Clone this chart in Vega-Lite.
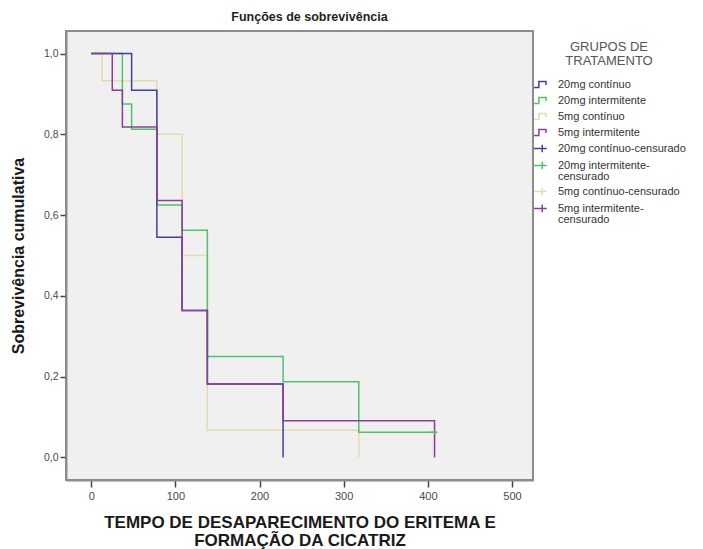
{
  "$schema": "https://vega.github.io/schema/vega-lite/v6.json",
  "width": 467,
  "height": 449,
  "autosize": {"type": "none"},
  "padding": {"left": 66, "top": 31, "right": 170, "bottom": 69},
  "background": "white",
  "title": {
    "text": "Funções de sobrevivência",
    "font": "Liberation Sans",
    "fontSize": 12.5,
    "fontWeight": "bold",
    "color": "#1e1e1e",
    "anchor": "middle",
    "frame": "group",
    "offset": 8,
    "dx": 10
  },
  "datasets": {
    "curvas": [
      {"grupo": "5mg contínuo", "tempo": 0, "sobrevivencia": 1},
      {"grupo": "5mg contínuo", "tempo": 13, "sobrevivencia": 0.933},
      {"grupo": "5mg contínuo", "tempo": 78, "sobrevivencia": 0.8},
      {"grupo": "5mg contínuo", "tempo": 108, "sobrevivencia": 0.5},
      {"grupo": "5mg contínuo", "tempo": 138, "sobrevivencia": 0.067},
      {"grupo": "5mg contínuo", "tempo": 318, "sobrevivencia": 0},
      {"grupo": "20mg intermitente", "tempo": 0, "sobrevivencia": 1},
      {"grupo": "20mg intermitente", "tempo": 37, "sobrevivencia": 0.875},
      {"grupo": "20mg intermitente", "tempo": 48, "sobrevivencia": 0.8125},
      {"grupo": "20mg intermitente", "tempo": 78, "sobrevivencia": 0.625},
      {"grupo": "20mg intermitente", "tempo": 108, "sobrevivencia": 0.5625},
      {"grupo": "20mg intermitente", "tempo": 138, "sobrevivencia": 0.25},
      {"grupo": "20mg intermitente", "tempo": 228, "sobrevivencia": 0.1875},
      {"grupo": "20mg intermitente", "tempo": 318, "sobrevivencia": 0.0625},
      {"grupo": "20mg intermitente", "tempo": 408, "sobrevivencia": 0.0625},
      {"grupo": "20mg contínuo", "tempo": 0, "sobrevivencia": 1},
      {"grupo": "20mg contínuo", "tempo": 48, "sobrevivencia": 0.909},
      {"grupo": "20mg contínuo", "tempo": 78, "sobrevivencia": 0.545},
      {"grupo": "20mg contínuo", "tempo": 108, "sobrevivencia": 0.364},
      {"grupo": "20mg contínuo", "tempo": 138, "sobrevivencia": 0.182},
      {"grupo": "20mg contínuo", "tempo": 228, "sobrevivencia": 0},
      {"grupo": "5mg intermitente", "tempo": 0, "sobrevivencia": 1},
      {"grupo": "5mg intermitente", "tempo": 25, "sobrevivencia": 0.909},
      {"grupo": "5mg intermitente", "tempo": 37, "sobrevivencia": 0.818},
      {"grupo": "5mg intermitente", "tempo": 78, "sobrevivencia": 0.636},
      {"grupo": "5mg intermitente", "tempo": 108, "sobrevivencia": 0.364},
      {"grupo": "5mg intermitente", "tempo": 138, "sobrevivencia": 0.182},
      {"grupo": "5mg intermitente", "tempo": 228, "sobrevivencia": 0.091},
      {"grupo": "5mg intermitente", "tempo": 408, "sobrevivencia": 0}
    ],
    "censurados": [
      {"grupo": "20mg intermitente-censurado", "tempo": 408, "sobrevivencia": 0.0625}
    ]
  },
  "resolve": {"legend": {"color": "independent", "shape": "independent"}},
  "layer": [
    {
      "data": {"name": "curvas"},
      "mark": {"type": "line", "interpolate": "step-after", "strokeWidth": 1.5},
      "encoding": {
        "x": {
          "field": "tempo",
          "type": "quantitative",
          "scale": {"domain": [-30, 525], "nice": false, "zero": false},
          "axis": {
            "values": [0, 100, 200, 300, 400, 500],
            "title": ["TEMPO DE DESAPARECIMENTO DO ERITEMA E", "FORMAÇÃO DA CICATRIZ"],
            "titleFont": "Liberation Sans",
            "titleFontSize": 17,
            "titleFontWeight": "bold",
            "titleColor": "#1a1a1a",
            "titleLineHeight": 18,
            "titlePadding": 13,
            "labelFont": "Liberation Sans",
            "labelFontSize": 11,
            "labelColor": "#4a4a4a",
            "labelPadding": 3,
            "tickColor": "#444444",
            "tickSize": 7,
            "tickWidth": 1.5,
            "domainColor": "#8c8c8c",
            "domainWidth": 2,
            "grid": false
          }
        },
        "y": {
          "field": "sobrevivencia",
          "type": "quantitative",
          "scale": {"domain": [-0.056, 1.056], "nice": false, "zero": false},
          "axis": {
            "values": [0, 0.2, 0.4, 0.6, 0.8, 1],
            "labelExpr": "replace(format(datum.value, '.1f'), '.', ',')",
            "title": "Sobrevivência cumulativa",
            "titleFont": "Liberation Sans",
            "titleFontSize": 16,
            "titleFontWeight": "bold",
            "titleColor": "#1a1a1a",
            "titlePadding": 17,
            "labelFont": "Liberation Sans",
            "labelFontSize": 10.5,
            "labelColor": "#4a4a4a",
            "labelPadding": 2,
            "tickColor": "#444444",
            "tickSize": 6,
            "tickWidth": 1.5,
            "domainColor": "#8c8c8c",
            "domainWidth": 2,
            "grid": false
          }
        },
        "color": {
          "field": "grupo",
          "type": "nominal",
          "sort": null,
          "scale": {
            "domain": ["20mg contínuo", "20mg intermitente", "5mg contínuo", "5mg intermitente", "20mg contínuo-censurado", "20mg intermitente-censurado", "5mg contínuo-censurado", "5mg intermitente-censurado"],
            "range": ["#40409e", "#4fc26c", "#e6d9b0", "#8a3e98", "#40409e", "#4fc26c", "#e6d9b0", "#8a3e98"]
          },
          "legend": null
        }
      }
    },
    {
      "data": {"name": "censurados"},
      "mark": {"type": "point", "filled": false, "size": 64, "strokeWidth": 1.5, "opacity": 1},
      "encoding": {
        "x": {"field": "tempo", "type": "quantitative"},
        "y": {"field": "sobrevivencia", "type": "quantitative"},
        "color": {
          "field": "grupo",
          "type": "nominal",
          "sort": null,
          "scale": {
            "domain": ["20mg contínuo", "20mg intermitente", "5mg contínuo", "5mg intermitente", "20mg contínuo-censurado", "20mg intermitente-censurado", "5mg contínuo-censurado", "5mg intermitente-censurado"],
            "range": ["#40409e", "#4fc26c", "#e6d9b0", "#8a3e98", "#40409e", "#4fc26c", "#e6d9b0", "#8a3e98"]
          },
          "legend": {
            "title": ["GRUPOS DE", "TRATAMENTO"],
            "labelExpr": "indexof(datum.label, 'intermitente-') >= 0 ? [replace(datum.label, 'censurado', ''), 'censurado'] : datum.label"
          }
        },
        "shape": {
          "field": "grupo",
          "type": "nominal",
          "sort": null,
          "scale": {
            "domain": ["20mg contínuo", "20mg intermitente", "5mg contínuo", "5mg intermitente", "20mg contínuo-censurado", "20mg intermitente-censurado", "5mg contínuo-censurado", "5mg intermitente-censurado"],
            "range": [
              "M-1,0.4L-0.35,0.4L-0.35,-0.4L0.6,-0.4L0.6,0.05",
              "M-1,0.4L-0.35,0.4L-0.35,-0.4L0.6,-0.4L0.6,0.05",
              "M-1,0.4L-0.35,0.4L-0.35,-0.4L0.6,-0.4L0.6,0.05",
              "M-1,0.4L-0.35,0.4L-0.35,-0.4L0.6,-0.4L0.6,0.05",
              "M-1,0L0.7,0M0.1,-0.5L0.1,0.5",
              "M-1,0L0.7,0M0.1,-0.5L0.1,0.5",
              "M-1,0L0.7,0M0.1,-0.5L0.1,0.5",
              "M-1,0L0.7,0M0.1,-0.5L0.1,0.5"
            ]
          },
          "legend": {
            "title": ["GRUPOS DE", "TRATAMENTO"],
            "labelExpr": "indexof(datum.label, 'intermitente-') >= 0 ? [replace(datum.label, 'censurado', ''), 'censurado'] : datum.label"
          }
        }
      }
    }
  ],
  "config": {
    "view": {"fill": "#f0f0f0", "stroke": "#8c8c8c", "strokeWidth": 2},
    "style": {
      "guide-label": {"lineHeight": 11}
    },
    "legend": {
      "orient": "right",
      "offset": -10,
      "padding": 10,
      "titleFont": "Liberation Sans",
      "titleFontSize": 13,
      "titleFontWeight": "normal",
      "titleColor": "#555555",
      "titleAlign": "center",
      "titleAnchor": "middle",
      "titleLineHeight": 14,
      "titlePadding": 8,
      "labelFont": "Liberation Sans",
      "labelFontSize": 11,
      "labelColor": "#333333",
      "labelOffset": 8,
      "labelLimit": 200,
      "symbolSize": 225,
      "symbolStrokeWidth": 1.5,
      "symbolFillColor": "transparent",
      "rowPadding": 1
    }
  }
}
